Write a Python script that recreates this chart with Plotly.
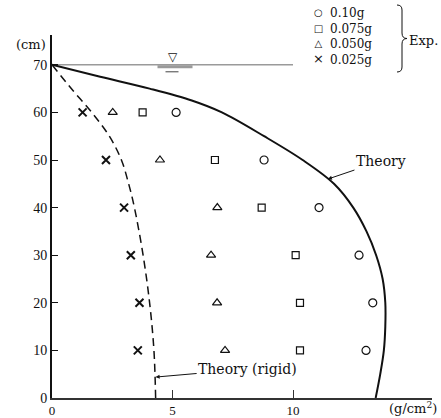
import plotly.graph_objects as go

# ---------------- data ----------------
depth_levels = [10, 20, 30, 40, 50, 60]
exp_010 = [13.03, 13.31, 12.74, 11.08, 8.80, 5.15]
exp_0075 = [10.29, 10.29, 10.11, 8.70, 6.76, 3.76]
exp_0050 = [7.18, 6.85, 6.60, 6.86, 4.48, 2.52]
exp_0025 = [3.56, 3.63, 3.27, 2.99, 2.24, 1.27]

theory_y = [0, 5, 10, 15, 20, 25, 30, 35, 40, 45, 50, 55, 60, 62.5, 65, 67.5, 70]
theory_x = [13.43, 13.62, 13.77, 13.83, 13.83, 13.72, 13.45, 13.05, 12.5, 11.7, 10.4, 8.8, 7.05, 5.8, 4.05, 2.0, 0]

rigid_y = [0, 10, 20, 30, 40, 45, 50, 55, 60, 65, 70]
rigid_x = [4.30, 4.23, 4.05, 3.78, 3.42, 3.18, 2.88, 2.38, 1.65, 0.8, 0]

water_level = 70
water_x = [0, 10]

x_ticks = [0, 5, 10]
y_ticks = [0, 10, 20, 30, 40, 50, 60, 70]

series_names = ["0.10g", "0.075g", "0.050g", "0.025g"]
series_glyphs = ["○", "□", "△", "×"]

# ---------------- layout constants ----------------
W, H = 441, 418
L, R, T, B = 52, 9, 35, 20
PW, PH = W - L - R, H - T - B


def px(xp):
    return (xp - L) / PW


def py(yp):
    return (H - B - yp) / PH


SERIF = "DejaVu Serif, Liberation Serif, serif"
TICKF = "Liberation Serif, DejaVu Serif, serif"
INK = "#111111"

fig = go.Figure()

# water surface
fig.add_trace(go.Scatter(x=water_x, y=[water_level] * len(water_x), mode="lines",
                         line=dict(color="#9a9a9a", width=1.5), showlegend=False, hoverinfo="skip"))

# theory curves
fig.add_trace(go.Scatter(x=theory_x, y=theory_y, mode="lines", line=dict(color=INK, width=2, shape="spline"),
                         name="Theory", showlegend=False))
fig.add_trace(go.Scatter(x=rigid_x, y=rigid_y, mode="lines",
                         line=dict(color=INK, width=1.5, dash="8px,5px", shape="spline"),
                         name="Theory (rigid)", showlegend=False))

# experiments
fig.add_trace(go.Scatter(x=exp_010, y=depth_levels, mode="markers", name=series_names[0], showlegend=False,
                         marker=dict(symbol="circle-open", size=8, color=INK, line=dict(width=1.2))))
fig.add_trace(go.Scatter(x=exp_0075, y=depth_levels, mode="markers", name=series_names[1], showlegend=False,
                         marker=dict(symbol="square-open", size=7, color=INK, line=dict(width=1.2))))
fig.add_trace(go.Scatter(x=exp_0050, y=depth_levels, mode="markers", name=series_names[2], showlegend=False,
                         marker=dict(symbol="triangle-up-open", size=8, color=INK, line=dict(width=1.2))))
fig.add_trace(go.Scatter(x=exp_0025, y=depth_levels, mode="markers", name=series_names[3], showlegend=False,
                         marker=dict(symbol="x-thin-open", size=8, color=INK, line=dict(width=2, color=INK))))

ann = []
# legend (manual, one block of symbols and one block of labels)
sym_text = "<br>".join(
    "<span style='font-size:%dpx'>%s</span>" % (13 if g == "×" else 10, g) for g in series_glyphs)
ann.append(dict(xref="paper", yref="paper", x=px(318), y=py(36), text=sym_text, showarrow=False,
                xanchor="center", yanchor="middle", align="center",
                font=dict(family="DejaVu Sans", size=12, color=INK)))
ann.append(dict(xref="paper", yref="paper", x=px(328), y=py(36), text="<br>".join(series_names),
                showarrow=False, xanchor="left", yanchor="middle", align="left",
                font=dict(family=SERIF, size=12, color=INK)))
ann.append(dict(xref="paper", yref="paper", x=px(407), y=py(40), text="Exp.", showarrow=False,
                xanchor="left", yanchor="middle", font=dict(family=SERIF, size=13, color=INK)))

# axis unit labels
ann.append(dict(xref="paper", yref="paper", x=px(48), y=py(45), text="(cm)", showarrow=False,
                xanchor="right", yanchor="middle", font=dict(family=SERIF, size=13, color=INK)))
ann.append(dict(xref="paper", yref="paper", x=px(439), y=py(408), text="(g/cm<sup>2</sup>)", showarrow=False,
                xanchor="right", yanchor="middle", font=dict(family=SERIF, size=13, color=INK)))

# curve labels
ann.append(dict(x=11.45, y=46, xref="x", yref="y", text="Theory", showarrow=True,
                ax=53, ay=-18, arrowhead=2, arrowsize=0.8, arrowwidth=1, arrowcolor=INK,
                font=dict(family=SERIF, size=14, color=INK)))
ann.append(dict(x=4.3, y=4.4, xref="x", yref="y", text="Theory (rigid)", showarrow=True,
                ax=92, ay=-8, arrowhead=2, arrowsize=0.8, arrowwidth=1, arrowcolor=INK,
                font=dict(family=SERIF, size=14, color=INK)))

# water symbol
ann.append(dict(x=5, y=water_level, xref="x", yref="y", text="▽", showarrow=False, yshift=8,
                font=dict(family="DejaVu Sans", size=12, color=INK)))

shapes = [
    dict(type="line", xref="x", yref="y", xsizemode="pixel", ysizemode="pixel", xanchor=5, yanchor=water_level,
         x0=-15, x1=20, y0=-2, y1=-2, line=dict(color="#9a9a9a", width=3)),
    dict(type="line", xref="x", yref="y", xsizemode="pixel", ysizemode="pixel", xanchor=5, yanchor=water_level,
         x0=-7, x1=6, y0=-7, y1=-7, line=dict(color="#444444", width=1)),
    dict(type="path", xref="paper", yref="paper", xsizemode="pixel", ysizemode="pixel", xanchor=1, yanchor=1,
         path="M -35,30 Q -30,30 -30,25 L -30,2 Q -30,-3.5 -25,-3.5 Q -30,-3.5 -30,-9 L -30,-32 Q -30,-37 -35,-37",
         line=dict(color=INK, width=1)),
]

fig.update_layout(
    width=W, height=H, margin=dict(l=L, r=R, t=T, b=B, autoexpand=False),
    paper_bgcolor="white", plot_bgcolor="white",
    showlegend=False, annotations=ann, shapes=shapes,
    xaxis=dict(range=[0, PW / 24.1], tickvals=x_ticks, ticks="inside", ticklen=8, tickcolor="#333",
               showline=True, linecolor="#333", linewidth=1.5, showgrid=False, zeroline=False,
               automargin=False, tickfont=dict(family=TICKF, size=13, color=INK)),
    yaxis=dict(range=[0, PH / 4.76], tickvals=y_ticks, ticks="inside", ticklen=6, tickcolor=INK,
               showline=True, linecolor=INK, linewidth=2, showgrid=False, zeroline=False,
               automargin=False, tickfont=dict(family=TICKF, size=14, color=INK)),
)

fig.write_html("out.html", config={"displayModeBar": False},
               post_script="document.body.style.margin='0';document.documentElement.style.overflow='hidden';")
